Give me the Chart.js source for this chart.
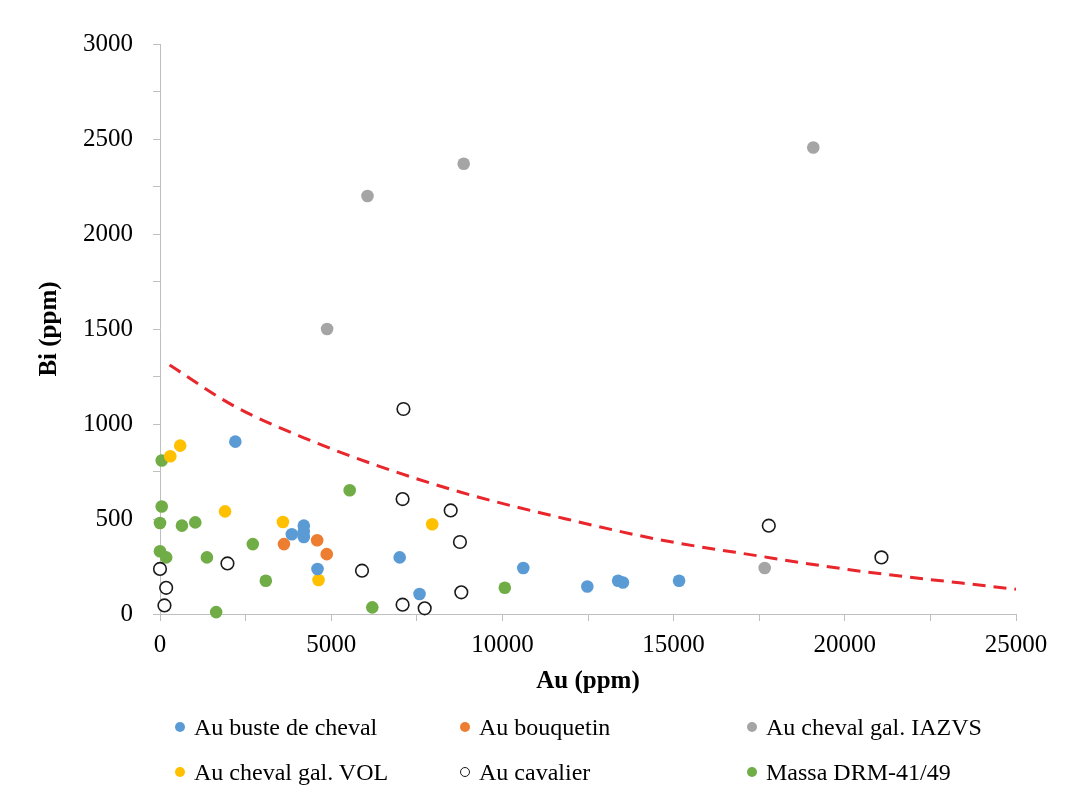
<!DOCTYPE html>
<html>
<head>
<meta charset="utf-8">
<script src="https://cdn.jsdelivr.net/npm/chart.js@4"></script>
<style>
  body { margin: 0; background: #fff; }
  #wrap { position: relative; width: 1065px; height: 796px; }
  #legend { position: absolute; left: 0; top: 0; width: 100%; height: 100%; pointer-events: none;
            font-family: "Liberation Serif", "Times New Roman", serif; font-size: 24px; color: #000; }
  .item { position: absolute; display: flex; align-items: center; height: 30px; white-space: nowrap; }
  .dot { width: 10px; height: 10px; border-radius: 50%; margin-right: 9px; box-sizing: border-box; }
</style>
</head>
<body>
<div id="wrap">
  <canvas id="chart"></canvas>
  <div id="legend"></div>
</div>
<script>
// ====== Data (Au ppm, Bi ppm) ======
const busteAu = [2200, 3850, 4200, 4200, 4200, 4600, 7000, 7580, 10610, 12480, 13380, 13520, 15160];
const busteBi = [907, 420, 465, 435, 405, 237, 298, 105, 242, 145, 175, 166, 175];

const bouquetinAu = [3620, 4590, 4870];
const bouquetinBi = [368, 388, 315];

const iazvsAu = [4880, 6060, 8870, 19080, 17660];
const iazvsBi = [1500, 2200, 2370, 2455, 242];

const volAu = [300, 590, 1900, 3590, 4630, 7950];
const volBi = [830, 886, 540, 484, 179, 472];

const cavalierAu = [7110, 7085, 8490, 8760, 0, 1970, 5900, 180, 130, 7085, 7730, 8800, 17780, 21070];
const cavalierBi = [1079, 605, 545, 379, 237, 266, 228, 138, 45, 49, 30, 114, 465, 298];

const massaAu = [50, 50, 0, 640, 1030, 5540, 0, 180, 1370, 2710, 3090, 1640, 6200, 10070];
const massaBi = [808, 566, 479, 465, 482, 651, 330, 298, 298, 368, 175, 10, 35, 138];

// dashed boundary
const limitAu = [280, 2180, 4220, 6410, 9040, 11960, 14590, 17500, 20140, 25000];
const limitBi = [1310, 1093, 926, 777, 628, 496, 391, 305, 233, 130];

const labels = ["Au buste de cheval", "Au bouquetin", "Au cheval gal. IAZVS",
                "Au cheval gal. VOL", "Au cavalier", "Massa DRM-41/49"];

const pts = (xs, ys) => xs.map((x, i) => ({ x: x, y: ys[i] }));

const serif = "'Liberation Serif', 'Times New Roman', serif";

function series(label, xs, ys, fill, stroke) {
  return {
    label: label,
    data: pts(xs, ys),
    backgroundColor: fill,
    borderColor: stroke || fill,
    borderWidth: stroke ? 1.6 : 0,
    pointRadius: 6.3,
    pointHoverRadius: 6.3,
    clip: false,
  };
}

const datasets = [
  series(labels[0], busteAu, busteBi, "#5B9BD5"),
  series(labels[1], bouquetinAu, bouquetinBi, "#ED7D31"),
  series(labels[2], iazvsAu, iazvsBi, "#A5A5A5"),
  series(labels[3], volAu, volBi, "#FFC000"),
  series(labels[4], cavalierAu, cavalierBi, "#FFFFFF", "#1a1a1a"),
  series(labels[5], massaAu, massaBi, "#70AD47"),
  {
    label: "limit",
    data: pts(limitAu, limitBi),
    showLine: true,
    borderColor: "#E8262B",
    borderWidth: 3,
    borderDash: [13, 8],
    pointRadius: 0,
    fill: false,
    cubicInterpolationMode: "monotone",
  },
];

new Chart(document.getElementById("chart"), {
  type: "scatter",
  data: { datasets: datasets },
  options: {
    responsive: true,
    maintainAspectRatio: false,
    animation: false,
    layout: { padding: { top: 44, right: 49, bottom: 91, left: 0 } },
    plugins: { legend: { display: false }, tooltip: { enabled: false } },
    scales: {
      x: {
        type: "linear",
        min: 0,
        max: 25000,
        afterFit: (s) => { s.height = 91; },
        ticks: {
          stepSize: 2500,
          autoSkip: false,
          maxRotation: 0,
          padding: 9,
          color: "#000",
          font: { family: serif, size: 25 },
          callback: (v) => (v % 5000 === 0 ? String(v) : ""),
        },
        grid: { drawOnChartArea: false, color: "#bfbfbf", tickLength: 7 },
        border: { color: "#bfbfbf" },
        title: {
          display: true,
          text: "Au (ppm)",
          color: "#000",
          font: { family: serif, size: 25, weight: "bold" },
          padding: { top: 0, bottom: 8 },
        },
      },
      y: {
        min: 0,
        max: 3000,
        afterFit: (s) => { s.width = 160; },
        ticks: {
          stepSize: 250,
          autoSkip: false,
          padding: 20,
          color: "#000",
          font: { family: serif, size: 25 },
          callback: (v) => (v % 500 === 0 ? String(v) : ""),
        },
        grid: { drawOnChartArea: false, color: "#bfbfbf", tickLength: 7 },
        border: { color: "#bfbfbf" },
        title: {
          display: true,
          text: "Bi (ppm)",
          color: "#000",
          font: { family: serif, size: 25, weight: "bold" },
          padding: { top: 35, bottom: 0 },
        },
      },
    },
  },
});

// ====== Legend (3 columns x 2 rows) ======
const legendCols = [175, 460, 747];
const legendRows = [712, 757];
const legend = document.getElementById("legend");
datasets.slice(0, 6).forEach((ds, i) => {
  const item = document.createElement("div");
  item.className = "item";
  item.style.left = legendCols[i % 3] + "px";
  item.style.top = legendRows[Math.floor(i / 3)] + "px";
  const dot = document.createElement("span");
  dot.className = "dot";
  dot.style.background = ds.backgroundColor;
  if (ds.borderWidth) dot.style.border = "1.3px solid " + ds.borderColor;
  const txt = document.createElement("span");
  txt.textContent = ds.label;
  item.appendChild(dot);
  item.appendChild(txt);
  legend.appendChild(item);
});
</script>
</body>
</html>
